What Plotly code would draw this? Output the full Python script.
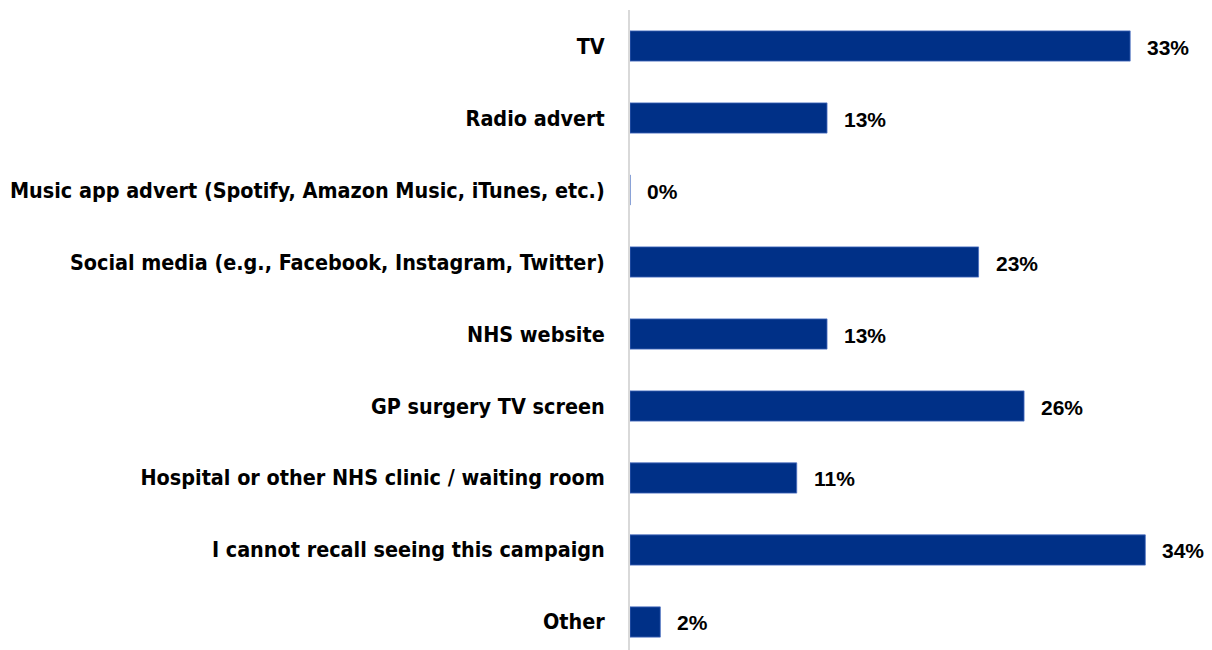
import plotly.graph_objects as go

categories = [
    "TV",
    "Radio advert",
    "Music app advert (Spotify, Amazon Music, iTunes, etc.)",
    "Social media (e.g., Facebook, Instagram, Twitter)",
    "NHS website",
    "GP surgery TV screen",
    "Hospital or other NHS clinic / waiting room",
    "I cannot recall seeing this campaign",
    "Other",
]
values = [33, 13, 0, 23, 13, 26, 11, 34, 2]
value_labels = [f"{v}%" for v in values]

BAR_BLUE = "#003087"

fig = go.Figure(
    go.Bar(
        x=values,
        y=categories,
        orientation="h",
        marker=dict(color=BAR_BLUE, line=dict(color="#4a6fc0", width=0.8)),
        width=0.42,
        hoverinfo="x+y",
    )
)

for cat, v, lbl in zip(categories, values, value_labels):
    fig.add_annotation(
        x=v, y=cat, text=f"<b>{lbl}</b>", showarrow=False,
        xanchor="left", yanchor="middle", xshift=15, yshift=-1,
        font=dict(family="Liberation Sans, Arial, sans-serif", size=21, color="#000000"),
    )

fig.update_layout(
    width=1212, height=650,
    margin=dict(l=630, r=0, t=10, b=0),
    paper_bgcolor="white", plot_bgcolor="white",
    showlegend=False,
    xaxis=dict(range=[0, 38.4], visible=False, fixedrange=True),
    yaxis=dict(
        categoryorder="array", categoryarray=categories,
        range=[8.389, -0.5],
        automargin=False,
        showline=True, linecolor="#d9d9d9", linewidth=2,
        showgrid=False, zeroline=False,
        ticks="", ticklabelstandoff=19,
        tickfont=dict(family="DejaVu Sans Condensed, Arial Narrow, sans-serif",
                      size=21.4, color="#000000"),
        tickprefix="<b>", ticksuffix="</b>",
    ),
)

fig.write_html("out.html")
